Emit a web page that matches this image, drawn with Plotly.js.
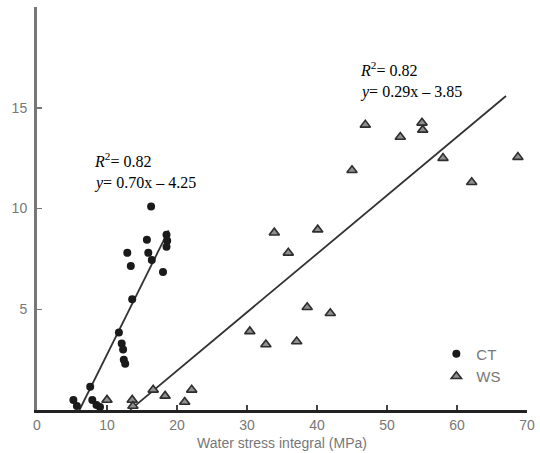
<!DOCTYPE html>
<html>
<head>
<meta charset="utf-8">
<script src="https://cdn.plot.ly/plotly-3.0.1.min.js"></script>
<style>html,body{margin:0;padding:0;background:#fff;}#chart{width:540px;height:453px;}</style>
</head>
<body>
<div id="chart"></div>
<script>
// CT data (filled circles)
const ctX = [16.3, 15.7, 18.5, 18.6, 18.5, 12.9, 13.4, 15.9, 16.4, 18.0, 13.6, 11.7, 12.1, 12.3, 12.4, 12.6, 7.6, 5.2, 5.7, 7.9, 8.5, 9.0];
const ctY = [10.1, 8.45, 8.7, 8.4, 8.1, 7.8, 7.15, 7.8, 7.45, 6.85, 5.5, 3.85, 3.3, 3.0, 2.5, 2.3, 1.15, 0.5, 0.2, 0.5, 0.25, 0.15];
// WS data (triangles)
const wsX = [10.0, 13.6, 13.7, 16.6, 18.3, 21.1, 22.1, 30.4, 32.7, 37.1, 38.6, 41.9, 33.9, 40.1, 35.9, 45.0, 46.9, 51.9, 55.0, 55.1, 58.0, 62.1, 68.7];
const wsY = [0.5, 0.5, 0.2, 1.0, 0.7, 0.4, 1.0, 3.9, 3.25, 3.4, 5.1, 4.8, 8.8, 8.95, 7.8, 11.9, 14.15, 13.55, 14.25, 13.9, 12.5, 11.3, 12.55];
// Regression fits
const fitNames = ["CT", "WS"];
const fitSlope = [0.70, 0.29];
const fitIntercept = [-4.25, -3.85];
const fitXStart = [6.07, 13.3];
const fitXEnd = [18.8, 67.0];
const fitR2 = ["0.82", "0.82"];
// Axis ticks
const xTicks = [0, 10, 20, 30, 40, 50, 60, 70];
const yTicks = [5, 10, 15];

const traces = [];
for (let i = 0; i < 2; i++) {
  const xs = [fitXStart[i], fitXEnd[i]];
  traces.push({
    x: xs, y: xs.map(v => fitSlope[i] * v + fitIntercept[i]),
    mode: 'lines', line: {color: '#333', width: 1.8},
    showlegend: false, hoverinfo: 'skip'
  });
}
traces.push({
  x: ctX, y: ctY, name: 'CT', mode: 'markers',
  marker: {symbol: 'circle', size: 8, color: '#1a1a1a', line: {width: 0}}
});
traces.push({
  x: wsX, y: wsY, name: 'WS', mode: 'markers',
  marker: {symbol: 'triangle-up', size: 9, color: '#8f8f8f', line: {color: '#2e2e2e', width: 1.6}}
});

const annFont = {family: 'Liberation Serif, serif', size: 16, color: '#000'};
function fmt(n){ return Math.abs(n).toFixed(2); }
const annotations = [
  {x: 7.86, y: 12.42, xref: 'x', yref: 'y', xanchor: 'left', yanchor: 'middle', showarrow: false,
   text: '<i>R</i><sup>2</sup>= ' + fitR2[0], font: annFont},
  {x: 7.86, y: 11.28, xref: 'x', yref: 'y', xanchor: 'left', yanchor: 'middle', showarrow: false,
   text: '<i>y</i>= ' + fitSlope[0].toFixed(2) + 'x – ' + fmt(fitIntercept[0]), font: annFont},
  {x: 45.86, y: 16.9, xref: 'x', yref: 'y', xanchor: 'left', yanchor: 'middle', showarrow: false,
   text: '<i>R</i><sup>2</sup>= ' + fitR2[1], font: annFont},
  {x: 45.86, y: 15.8, xref: 'x', yref: 'y', xanchor: 'left', yanchor: 'middle', showarrow: false,
   text: '<i>y</i>= ' + fitSlope[1].toFixed(2) + 'x – ' + fmt(fitIntercept[1]), font: annFont}
];

const tickFont = {family: 'Liberation Sans, Arial, sans-serif', size: 14, color: '#777'};
const layout = {
  width: 540, height: 453,
  margin: {l: 37, r: 13, t: 7, b: 43},
  paper_bgcolor: '#fff', plot_bgcolor: '#fff',
  showlegend: true,
  legend: {x: 0.815, y: 0.18, xanchor: 'left', yanchor: 'top', bgcolor: 'rgba(0,0,0,0)',
           font: {family: 'Liberation Sans, Arial, sans-serif', size: 15, color: '#777'}, tracegroupgap: 0},
  xaxis: {
    range: [0, 70], tickvals: xTicks, ticktext: xTicks.map(String),
    showgrid: false, zeroline: false, showline: true, linecolor: '#222', linewidth: 3,
    ticks: 'inside', ticklen: 5, tickcolor: '#444', tickwidth: 1.5,
    tickfont: tickFont,
    title: {text: 'Water stress integral (MPa)', font: {family: 'Liberation Sans, Arial, sans-serif', size: 14, color: '#777'}, standoff: 7}
  },
  yaxis: {
    range: [0, 20], tickvals: yTicks, ticktext: yTicks.map(String),
    showgrid: false, zeroline: false, showline: true, linecolor: '#777', linewidth: 3,
    ticks: 'inside', ticklen: 5, tickcolor: '#777', tickwidth: 1.5,
    tickfont: tickFont, ticklabelstandoff: 4
  },
  annotations: annotations
};
Plotly.newPlot('chart', traces, layout, {displayModeBar: false, staticPlot: true});
</script>
</body>
</html>
